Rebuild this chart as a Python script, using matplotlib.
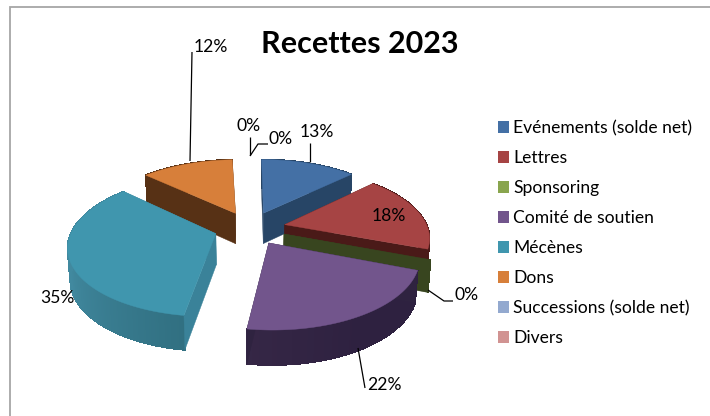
import numpy as np
import matplotlib
matplotlib.use("Agg")
import matplotlib.pyplot as plt
from matplotlib.colors import to_rgb
from matplotlib.patches import Patch, Polygon

categories = ["Evénements (solde net)", "Lettres", "Sponsoring", "Comité de soutien",
              "Mécènes", "Dons", "Successions (solde net)", "Divers"]
values = [12.8, 17.9, 0.1, 21.5, 34.6, 12.4, 0.35, 0.35]

top_colors = ["#4470A5", "#A64444", "#89A54E", "#72558C", "#4096AE", "#D77F3A", "#93A9CF", "#D19392"]
cut_colors = ["#274566", "#4A1A18", "#38451F", "#2F2340", "#3A8299", "#573115", "#93A9CF", "#D19392"]
wall_dark = ["#274566", "#4A1A18", "#38451F", "#2E2140", "#27606F", "#573115", "#93A9CF", "#D19392"]
wall_light = ["#274566", "#4A1A18", "#38451F", "#41304F", "#41899F", "#573115", "#93A9CF", "#D19392"]

# projection of the tilted pie, in pixels
CX, CY = 250, 228
RX, RY = 143, 67
PERSP = 0.166
DEPTH = 31
EXPLODE = 0.25
BOTTOM_SHRINK = 0.985

draw_order = [5, 0, 1, 2, 4, 3]

plt.rcParams["font.family"] = ["Lato", "DejaVu Sans"]


def project(x, y, z=0.0):
    s = 1 / (1 + PERSP * y)
    px = RX * x * s
    if z:
        px *= BOTTOM_SHRINK
    return CX + px, CY - RY * y * s + z * (1 + 0.5 * (s - 1))


def blend(c1, c2, t):
    a, b = np.array(to_rgb(c1)), np.array(to_rgb(c2))
    return tuple(a + (b - a) * t)


fig = plt.figure(figsize=(7.10, 4.16), dpi=100)
ax = fig.add_axes([0, 0, 1, 1])
ax.set_xlim(0, 710)
ax.set_ylim(416, 0)
ax.axis("off")

# chart frame, cropped on the right and at the bottom
ax.plot([9.5, 9.5, 710], [416, 7, 7], color="#A6A6A6", lw=1.3, solid_joinstyle="miter")

ends = np.cumsum(values) / 100 * 2 * np.pi
starts = ends - np.array(values) / 100 * 2 * np.pi

for i in draw_order:
    a0, a1 = starts[i], ends[i]
    mid = (a0 + a1) / 2
    ox, oy = EXPLODE * np.sin(mid), EXPLODE * np.cos(mid)
    n = int(values[i] * 5) + 2
    ang = np.linspace(a0, a1, n)
    rx = ox + np.sin(ang)
    ry = oy + np.cos(ang)
    up = np.array([project(a, b) for a, b in zip(rx, ry)])
    down = np.array([project(a, b, DEPTH) for a, b in zip(rx, ry)])
    apex_up = project(ox, oy)
    apex_down = project(ox, oy, DEPTH)

    # outer wall, shaded in small strips
    for j in range(n - 1):
        t = np.clip((np.degrees(ang[j]) - 150) / 100, 0, 1)
        col = blend(wall_dark[i], wall_light[i], t)
        quad = [up[j], up[j + 1], down[j + 1], down[j]]
        ax.add_patch(Polygon(quad, closed=True, fc=col, ec=col, lw=0.6, antialiased=False))

    # both cut faces
    for k in (0, -1):
        quad = [apex_up, up[k], down[k], apex_down]
        ax.add_patch(Polygon(quad, closed=True, fc=cut_colors[i], ec=cut_colors[i], lw=0.3))

    # top
    if values[i] >= 1:
        ax.add_patch(Polygon(np.vstack([[apex_up], up]), closed=True,
                             fc=top_colors[i], ec=top_colors[i], lw=0.3))

ax.text(360, 44, "Recettes 2023", fontsize=22, fontweight="bold", ha="center", va="center", color="black")

# data labels, one per category
label_xy = [(317, 132), (389, 216), (467, 295), (384, 385), (57, 298), (211, 47), (281, 139), (249, 126)]
for v, (lx, ly) in zip(values, label_xy):
    ax.text(lx, ly, f"{v:.0f}%", fontsize=12.6, ha="center", va="center", color="black")

leaders = [
    ([310, 310], [143, 162]),
    ([428, 444, 453], [290, 301, 301]),
    ([358, 365], [348, 388]),
    ([192, 190], [52, 161]),
    ([268, 258, 250], [144, 144, 156]),
    ([250, 250], [137, 155]),
]
for xs, ys in leaders:
    ax.plot(xs, ys, color="black", lw=0.9, solid_capstyle="butt")

handles = [Patch(fc=c, ec="none", label=lab) for c, lab in zip(top_colors, categories)]
ax.legend(handles=handles, loc="upper left", bbox_to_anchor=(498 / 710, 1 - 120 / 416),
          frameon=False, fontsize=12.6, handlelength=0.63, handleheight=0.63,
          handletextpad=0.23, labelspacing=0.80, borderpad=0, borderaxespad=0)

fig.savefig("out.png", dpi=100)
plt.close(fig)
